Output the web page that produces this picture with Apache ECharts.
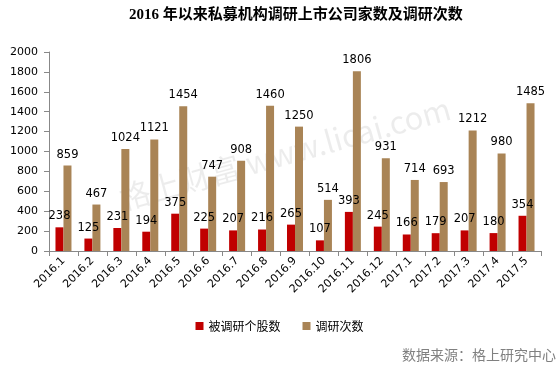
<!DOCTYPE html>
<html><head><meta charset="utf-8">
<script src="https://cdn.jsdelivr.net/npm/echarts@6/dist/echarts.min.js"></script>
<style>html,body{margin:0;padding:0;background:#fff}#c{width:559px;height:373px}</style>
</head><body><div id="c"></div>
<script>
var categories = ['2016.1','2016.2','2016.3','2016.4','2016.5','2016.6','2016.7','2016.8','2016.9','2016.10','2016.11','2016.12','2017.1','2017.2','2017.3','2017.4','2017.5'];
var stocks = [238,125,231,194,375,225,207,216,265,107,393,245,166,179,207,180,354];
var visits = [859,467,1024,1121,1454,747,908,1460,1250,514,1806,931,714,693,1212,980,1485];
var seriesNames = ['被调研个股数','调研次数'];
var yTicks = [0,200,400,600,800,1000,1200,1400,1600,1800,2000];

var chart = echarts.init(document.getElementById('c'));
var labelStyle = {show:true, position:'top', distance:5, color:'#000', fontSize:11.5, fontFamily:'DejaVu Sans'};
chart.setOption({
  animation:false,
  title:{text:'2016 年以来私募机构调研上市公司家数及调研次数', left:124, top:3,
    textStyle:{fontSize:15, fontWeight:'bold', color:'#000', fontFamily:'"Liberation Serif","Noto Sans CJK SC"'}},
  graphic:[{type:'text', x:124, y:214, rotation:0.27, z:-1, silent:true,
    style:{text:'格上财富 www.licai.com', fontSize:31, fill:'rgba(0,0,0,0.075)', textVerticalAlign:'bottom', fontFamily:'"Noto Sans CJK SC"'}},
    {type:'text', right:3, top:348, style:{text:'数据来源：格上研究中心', fontSize:14, fill:'#808080', fontFamily:'"Noto Sans CJK SC"'}}],
  legend:{data:seriesNames, left:'center', top:315, itemWidth:8, itemHeight:8, itemGap:22, icon:'rect',
    textStyle:{fontSize:12, color:'#000', fontFamily:'"Noto Sans CJK SC"'}},
  grid:{left:49, right:18, top:52, bottom:122},
  xAxis:{type:'category', data:categories, boundaryGap:true,
    axisLine:{lineStyle:{color:'#888'}}, axisTick:{show:true, alignWithLabel:false, length:5, lineStyle:{color:'#888'}},
    axisLabel:{rotate:45, interval:0, fontSize:11, color:'#000', fontFamily:'DejaVu Sans', margin:8}},
  yAxis:{type:'value', min:0, max:2000, interval:200,
    axisLine:{show:true, lineStyle:{color:'#888'}}, axisTick:{show:true, length:5, lineStyle:{color:'#888'}},
    splitLine:{show:false},
    axisLabel:{fontSize:11, color:'#000', fontFamily:'DejaVu Sans', margin:11, formatter:function(v){return String(v);}}},
  series:[
    {name:seriesNames[0], type:'bar', data:stocks, barWidth:8, barGap:'0%', itemStyle:{color:'#C00000'}, label:labelStyle},
    {name:seriesNames[1], type:'bar', data:visits, barWidth:8, itemStyle:{color:'#A98456'}, label:labelStyle}
  ]
});
</script></body></html>
